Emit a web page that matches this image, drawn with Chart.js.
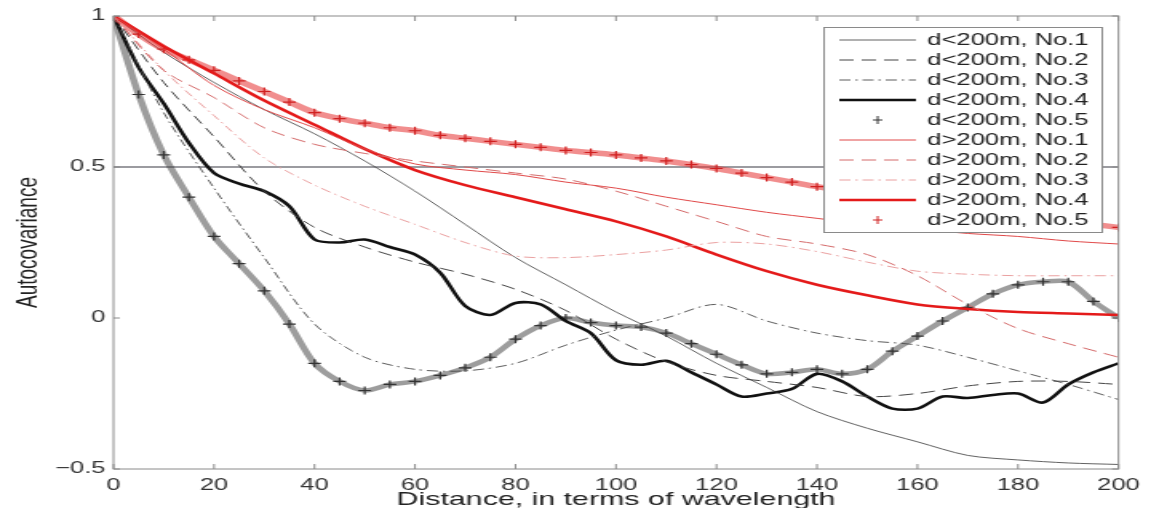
<!DOCTYPE html>
<html>
<head>
<meta charset="utf-8">
<script src="https://cdn.jsdelivr.net/npm/chart.js@4/dist/chart.umd.min.js"></script>
<style>
  html, body { margin: 0; padding: 0; background: #fff; overflow: hidden; }
  #wrap { width: 1151px; height: 508px; overflow: hidden; }
  /* the source picture is stretched sideways, so the canvas is too */
  #chart { display: block; transform: scaleX(1.5986); transform-origin: 0 0; }
</style>
</head>
<body>
<div id="wrap"><canvas id="chart" width="720" height="508"></canvas></div>
<script>
// distances (in wavelengths)
const dist10 = [0, 10, 20, 30, 40, 50, 60, 70, 80, 90, 100, 110, 120, 130, 140, 150, 160, 170, 180, 190, 200]
const dist5 = [0, 5, 10, 15, 20, 25, 30, 35, 40, 45, 50, 55, 60, 65, 70, 75, 80, 85, 90, 95, 100,
  105, 110, 115, 120, 125, 130, 135, 140, 145, 150, 155, 160, 165, 170, 175, 180, 185, 190, 195, 200]

// d<200m
const near1 = [1, 0.88, 0.78, 0.69, 0.61, 0.52, 0.42, 0.31, 0.20, 0.11, 0.02, -0.06, -0.15, -0.23, -0.31, -0.365, -0.41, -0.455, -0.47, -0.48, -0.485]
const near2 = [1, 0.78, 0.60, 0.42, 0.30, 0.235, 0.185, 0.145, 0.095, 0.025, -0.07, -0.145, -0.19, -0.21, -0.23, -0.26, -0.25, -0.225, -0.21, -0.21, -0.22]
const near3 = [1, 0.68, 0.43, 0.20, -0.02, -0.13, -0.17, -0.175, -0.15, -0.09, -0.04, 0.0, 0.045, -0.01, -0.05, -0.075, -0.09, -0.13, -0.175, -0.22, -0.27]
const near4 = [1, 0.83, 0.71, 0.58, 0.48, 0.445, 0.42, 0.37, 0.26, 0.25, 0.26, 0.235, 0.21, 0.15, 0.04, 0.01, 0.05, 0.045, -0.01, -0.05,
  -0.14, -0.155, -0.142, -0.18, -0.22, -0.26, -0.25, -0.235, -0.185, -0.21, -0.26, -0.30, -0.30, -0.26, -0.265, -0.255, -0.25, -0.28, -0.22, -0.18, -0.15]
const near5 = [1, 0.74, 0.54, 0.40, 0.27, 0.18, 0.09, -0.02, -0.15, -0.21, -0.24, -0.22, -0.21, -0.19, -0.165, -0.13, -0.07, -0.025, 0.0, -0.015,
  -0.025, -0.03, -0.05, -0.085, -0.12, -0.155, -0.185, -0.18, -0.17, -0.185, -0.17, -0.11, -0.06, -0.01, 0.035, 0.08, 0.11, 0.12, 0.12, 0.055, 0.0]

// d>200m
const far1 = [1, 0.89, 0.77, 0.69, 0.63, 0.56, 0.51, 0.49, 0.475, 0.45, 0.43, 0.40, 0.375, 0.35, 0.33, 0.31, 0.295, 0.28, 0.27, 0.255, 0.245]
const far2 = [1, 0.82, 0.73, 0.63, 0.575, 0.545, 0.52, 0.50, 0.48, 0.46, 0.42, 0.37, 0.32, 0.27, 0.245, 0.21, 0.14, 0.045, -0.035, -0.085, -0.13]
const far3 = [1, 0.82, 0.67, 0.53, 0.44, 0.37, 0.31, 0.25, 0.205, 0.20, 0.21, 0.225, 0.25, 0.245, 0.22, 0.185, 0.155, 0.145, 0.14, 0.14, 0.14]
const far4 = [1, 0.90, 0.81, 0.72, 0.64, 0.56, 0.49, 0.44, 0.40, 0.36, 0.32, 0.27, 0.21, 0.155, 0.11, 0.075, 0.045, 0.03, 0.02, 0.015, 0.01]
const far5 = [1, 0.94, 0.89, 0.855, 0.82, 0.785, 0.75, 0.715, 0.68, 0.66, 0.645, 0.63, 0.62, 0.605, 0.595, 0.585, 0.575, 0.565, 0.555, 0.548,
  0.54, 0.53, 0.52, 0.508, 0.495, 0.48, 0.465, 0.45, 0.435, 0.422, 0.41, 0.397, 0.385, 0.372, 0.36, 0.35, 0.34, 0.33, 0.32, 0.31, 0.30]

const refLevel = 0.5
const legendLabels = ['d<200m, No.1', 'd<200m, No.2', 'd<200m, No.3', 'd<200m, No.4', 'd<200m, No.5',
  'd>200m, No.1', 'd>200m, No.2', 'd>200m, No.3', 'd>200m, No.4', 'd>200m, No.5']

const FONT = "'Liberation Sans', Arial, sans-serif"
const pts = (xs, ys) => xs.map((x, i) => ({ x: x, y: ys[i] }))

const lineSet = (label, xs, ys, color, width, dash, order) => ({
  label: label,
  data: pts(xs, ys),
  borderColor: color,
  borderWidth: width,
  borderDash: dash,
  pointRadius: 0,
  tension: 0.3,
  fill: false,
  order: order
})

// '+' marker series: a soft band under the crosses, like the dense markers of the source
const crossSet = (label, xs, ys, band, mark, width, order) => ({
  label: label,
  data: pts(xs, ys),
  borderColor: band,
  borderWidth: width,
  pointStyle: 'cross',
  pointRadius: 4,
  pointBorderColor: mark,
  pointBorderWidth: 1.2,
  tension: 0.3,
  fill: false,
  order: order
})

const datasets = [
  lineSet(legendLabels[0], dist10, near1, '#3a3a3a', 0.8, [], 2),
  lineSet(legendLabels[1], dist10, near2, '#444', 1, [9, 5], 2),
  lineSet(legendLabels[2], dist10, near3, '#4a4a4a', 0.9, [7, 3, 1.5, 3], 2),
  lineSet(legendLabels[3], dist5, near4, '#111', 2.6, [], 2),
  crossSet(legendLabels[4], dist5, near5, 'rgba(60,60,60,0.5)', '#333', 4.5, 2),
  lineSet(legendLabels[5], dist10, far1, '#e04848', 1, [], 1),
  lineSet(legendLabels[6], dist10, far2, '#d46a6a', 1, [9, 5], 1),
  lineSet(legendLabels[7], dist10, far3, '#eaa0a0', 1, [7, 3, 1.5, 3], 1),
  lineSet(legendLabels[8], dist10, far4, '#e41a1a', 2.6, [], 1),
  crossSet(legendLabels[9], dist5, far5, 'rgba(230,50,50,0.55)', '#d02020', 5.5, 1),
  {
    label: 'ref',
    data: [{ x: 0, y: refLevel }, { x: 200, y: refLevel }],
    borderColor: '#7a7a80',
    borderWidth: 1.3,
    pointRadius: 0,
    order: 3
  }
]

// box round the plot, with MATLAB style inner ticks
const framePlugin = {
  id: 'frame',
  afterDatasetsDraw(chart) {
    const { ctx, chartArea: a, scales } = chart
    ctx.save()
    ctx.strokeStyle = '#8a8a8a'
    ctx.lineWidth = 1
    ctx.strokeRect(a.left, a.top, a.right - a.left, a.bottom - a.top)
    ctx.beginPath()
    scales.x.ticks.forEach(t => {
      const px = scales.x.getPixelForValue(t.value)
      ctx.moveTo(px, a.bottom); ctx.lineTo(px, a.bottom - 5)
      ctx.moveTo(px, a.top); ctx.lineTo(px, a.top + 5)
    })
    scales.y.ticks.forEach(t => {
      const py = scales.y.getPixelForValue(t.value)
      ctx.moveTo(a.left, py); ctx.lineTo(a.left + 4, py)
      ctx.moveTo(a.right, py); ctx.lineTo(a.right - 4, py)
    })
    ctx.stroke()
    ctx.restore()
  }
}

// legend box inside the plot, top right
const legendPlugin = {
  id: 'insideLegend',
  afterDraw(chart) {
    const ctx = chart.ctx
    const x0 = 515, y0 = 27, w = 174, h = 205
    ctx.save()
    ctx.fillStyle = '#fff'
    ctx.fillRect(x0, y0, w, h)
    ctx.strokeStyle = '#8a8a8a'
    ctx.lineWidth = 1
    ctx.strokeRect(x0 + 0.5, y0 + 0.5, w, h)
    ctx.font = '16px ' + FONT
    ctx.textBaseline = 'middle'
    legendLabels.forEach((lab, i) => {
      const ds = chart.data.datasets[i]
      const yy = y0 + 13 + i * 20
      if (ds.pointStyle === 'cross') {
        ctx.strokeStyle = ds.pointBorderColor
        ctx.lineWidth = 1
        ctx.setLineDash([])
        ctx.beginPath()
        ctx.moveTo(x0 + 31, yy); ctx.lineTo(x0 + 37, yy)
        ctx.moveTo(x0 + 34, yy - 4); ctx.lineTo(x0 + 34, yy + 4)
        ctx.stroke()
      } else {
        ctx.strokeStyle = ds.borderColor
        ctx.lineWidth = ds.borderWidth
        ctx.setLineDash(ds.borderDash)
        ctx.beginPath()
        ctx.moveTo(x0 + 10, yy); ctx.lineTo(x0 + 58, yy)
        ctx.stroke()
      }
      ctx.fillStyle = '#222'
      ctx.fillText(lab, x0 + 65, yy + 1)
    })
    ctx.restore()
  }
}

new Chart(document.getElementById('chart'), {
  type: 'line',
  data: { datasets: datasets },
  options: {
    responsive: false,
    animation: false,
    devicePixelRatio: 1,
    layout: { padding: { top: 16, right: 18, left: 0, bottom: 0 } },
    plugins: { legend: { display: false }, tooltip: { enabled: false } },
    scales: {
      x: {
        type: 'linear',
        min: 0,
        max: 200,
        grid: { display: false, drawTicks: false },
        border: { display: false },
        ticks: { stepSize: 20, padding: 7, color: '#333', font: { family: FONT, size: 16 }, maxRotation: 0 },
        title: {
          display: true,
          text: 'Distance, in terms of wavelength',
          color: '#222',
          font: { family: FONT, size: 19, lineHeight: 0.9 },
          padding: 0
        },
        afterFit: s => { s.height = 39 }
      },
      y: {
        min: -0.5,
        max: 1,
        grid: { display: false, drawTicks: false },
        border: { display: false },
        ticks: {
          stepSize: 0.5,
          padding: 5,
          color: '#333',
          font: { family: FONT, size: 16 },
          callback: v => (v < 0 ? '\u2212' + Math.abs(v) : String(v))
        },
        title: {
          display: true,
          text: 'Autocovariance',
          color: '#222',
          font: { family: FONT, size: 19 },
          padding: 6
        },
        afterFit: s => { s.width = 71 }
      }
    }
  },
  plugins: [framePlugin, legendPlugin]
})
</script>
</body>
</html>
